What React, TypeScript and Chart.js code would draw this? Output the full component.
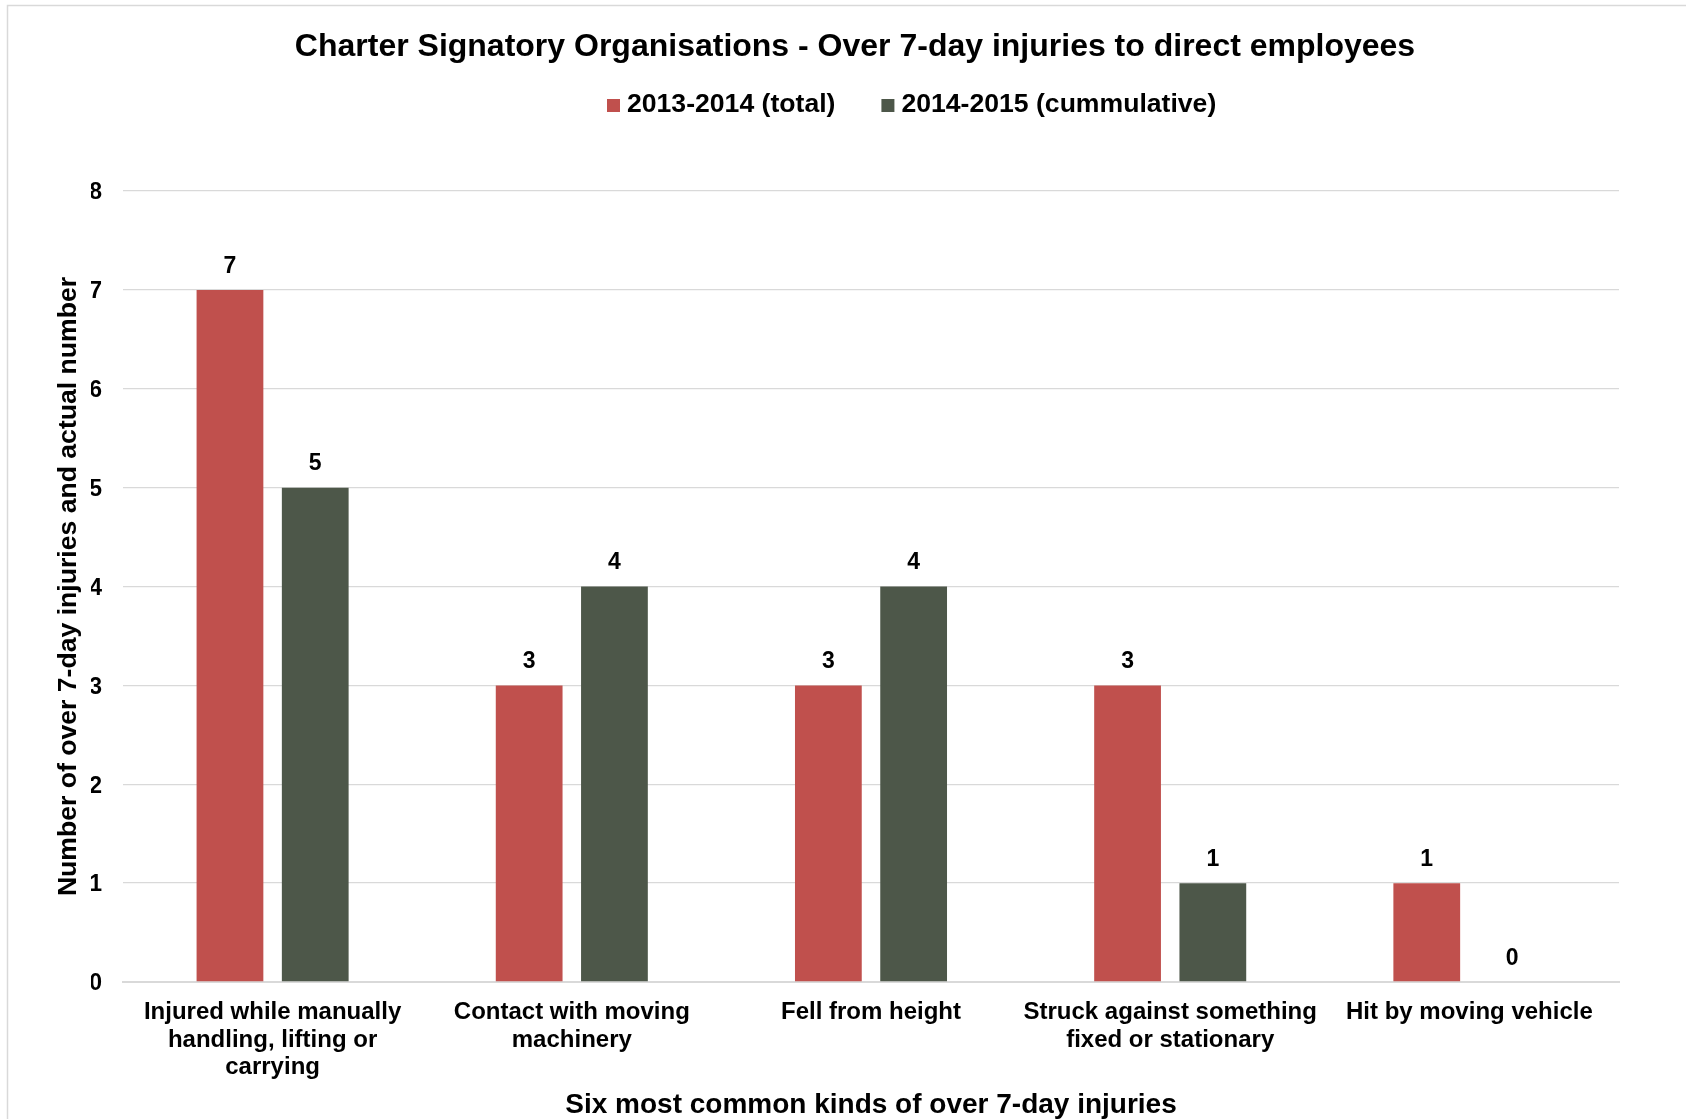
import React, { useEffect, useRef } from "react";
import { Chart, registerables } from "chart.js";

Chart.register(...registerables);

// ---- Data ----
const categories: string[][] = [
  ["Injured while manually", "handling, lifting or", "carrying"],
  ["Contact with moving", "machinery"],
  ["Fell from height"],
  ["Struck against something", "fixed or stationary"],
  ["Hit by moving vehicle"],
];
const seriesLabels = ["2013-2014 (total)", "2014-2015 (cummulative)"];
const values2013 = [7, 3, 3, 3, 1];
const values2014 = [5, 4, 4, 1, 0];
const yMin = 0;
const yMax = 8;
const yStep = 1;
const chartTitle = "Charter Signatory Organisations - Over 7-day injuries to direct employees";
const xAxisTitle = "Six most common kinds of over 7-day injuries";
const yAxisTitle = "Number of over 7-day injuries and actual number";

// ---- Styles ----
const FONT = "'Liberation Sans', Arial, Helvetica, sans-serif";
const RED = "#C0504D";
const GREEN = "#4D5749";
const GRID = "#D9D9D9";

const W = 1686;
const H = 1119;

const framePlugin = {
  id: "frame",
  beforeDraw(chart: any) {
    const ctx = chart.ctx;
    ctx.save();
    ctx.fillStyle = "#FFFFFF";
    ctx.fillRect(0, 0, chart.width, chart.height);
    ctx.strokeStyle = "#D9D9D9";
    ctx.lineWidth = 1.5;
    ctx.strokeRect(7.5, 5.5, chart.width + 20, chart.height + 20);
    ctx.restore();
  },
};

const legendPlugin = {
  id: "customLegend",
  afterDraw(chart: any) {
    const ctx = chart.ctx;
    ctx.save();
    ctx.font = `bold 26.6px ${FONT}`;
    ctx.textBaseline = "middle";
    ctx.textAlign = "left";
    let x = 607;
    const y = 105;
    chart.data.datasets.forEach((ds: any) => {
      ctx.fillStyle = ds.backgroundColor;
      ctx.fillRect(x, y - 6, 13, 13);
      ctx.fillStyle = "#000000";
      ctx.fillText(ds.label, x + 20, y);
      x += 20 + ctx.measureText(ds.label).width + 46;
    });
    ctx.restore();
  },
};

const valueLabelPlugin = {
  id: "valueLabels",
  afterDatasetsDraw(chart: any) {
    const ctx = chart.ctx;
    ctx.save();
    ctx.font = `bold 23px ${FONT}`;
    ctx.fillStyle = "#000000";
    ctx.textAlign = "center";
    ctx.textBaseline = "middle";
    chart.data.datasets.forEach((ds: any, di: number) => {
      const meta = chart.getDatasetMeta(di);
      meta.data.forEach((el: any, i: number) => {
        ctx.fillText(String(ds.data[i]), el.x, el.y - 23.5);
      });
    });
    ctx.restore();
  },
};

export default function App() {
  const canvasRef = useRef<HTMLCanvasElement | null>(null);

  useEffect(() => {
    if (!canvasRef.current) return;
    Chart.defaults.font.family = FONT;
    Chart.defaults.color = "#000000";
    const chart = new Chart(canvasRef.current, {
      type: "bar",
      data: {
        labels: categories,
        datasets: [
          {
            label: seriesLabels[0],
            data: values2013,
            backgroundColor: RED,
            borderWidth: 0,
            categoryPercentage: 0.57,
            barPercentage: 0.783,
          },
          {
            label: seriesLabels[1],
            data: values2014,
            backgroundColor: GREEN,
            borderWidth: 0,
            categoryPercentage: 0.57,
            barPercentage: 0.783,
          },
        ],
      },
      options: {
        animation: false,
        responsive: false,
        devicePixelRatio: 1,
        layout: { padding: { top: 0, left: 91, right: 67, bottom: 0 } },
        plugins: {
          legend: { display: false },
          tooltip: { enabled: false },
          title: {
            display: true,
            text: chartTitle,
            color: "#000000",
            font: { size: 32, weight: "bold", family: FONT, lineHeight: 1.2 },
            padding: { top: 27.8, bottom: 124.8 },
          },
        },
        scales: {
          x: {
            grid: { display: false, drawTicks: false },
            border: { display: true, color: GRID, width: 2 },
            ticks: {
              autoSkip: false,
              maxRotation: 0,
              minRotation: 0,
              padding: 16.7,
              color: "#000000",
              font: { size: 24, weight: "bold", family: FONT, lineHeight: 1.15 },
            },
            title: {
              display: true,
              text: xAxisTitle,
              color: "#000000",
              font: { size: 28, weight: "bold", family: FONT, lineHeight: 1.2 },
              padding: { top: 0, bottom: -3 },
            },
            afterFit: (scale: any) => {
              scale.height = 137;
            },
          },
          y: {
            min: yMin,
            max: yMax,
            grid: { color: GRID, lineWidth: 1.3, drawTicks: false },
            border: { display: false },
            ticks: {
              stepSize: yStep,
              padding: 21,
              labelOffset: 2,
              color: "#000000",
              font: { size: 23, weight: "bold", family: FONT },
            },
            title: {
              display: true,
              text: yAxisTitle,
              color: "#000000",
              font: { size: 26.6, weight: "bold", family: FONT, lineHeight: 1.2 },
              padding: { top: -38.6, bottom: 0 },
            },
            afterFit: (scale: any) => {
              scale.width = 32;
            },
          },
        },
      } as any,
      plugins: [framePlugin, legendPlugin, valueLabelPlugin],
    });
    return () => chart.destroy();
  }, []);

  return (
    <div style={{ position: "absolute", left: 0, top: 0, width: W, height: H, overflow: "hidden" }}>
      <canvas ref={canvasRef} width={W} height={H} style={{ display: "block", width: W, height: H }} />
    </div>
  );
}
